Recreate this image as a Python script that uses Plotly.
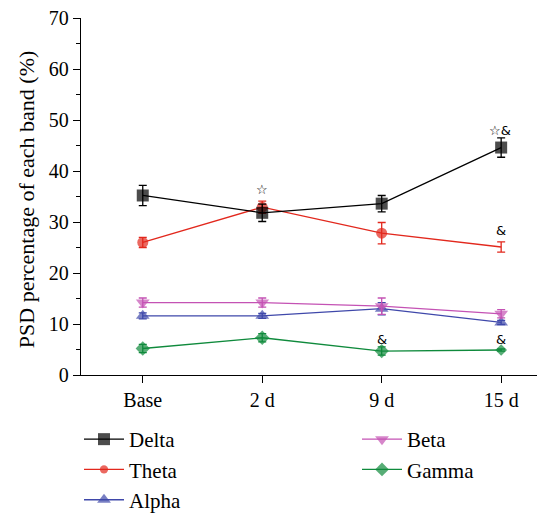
import plotly.graph_objects as go

categories = ["Base", "2 d", "9 d", "15 d"]
xpos = [0, 1, 2, 3]

delta = [35.2, 31.8, 33.6, 44.6]
delta_err = [2.0, 1.7, 1.6, 1.9]
theta = [26.0, 32.9, 27.8, 25.1]
theta_err = [1.0, 1.2, 2.1, 1.0]
alpha = [11.6, 11.6, 13.0, 10.3]
alpha_err = [0.6, 0.5, 1.2, 0.4]
beta = [14.2, 14.2, 13.5, 12.0]
beta_err = [0.9, 0.9, 1.6, 0.8]
gamma = [5.2, 7.3, 4.7, 4.9]
gamma_err = [0.8, 0.8, 0.8, 0.2]

font_family = "Liberation Serif"

series = [
    ("Gamma", gamma, gamma_err, "#0f8a3c", "diamond", [11, 11, 11, 9], "legend2", 2),
    ("Alpha", alpha, alpha_err, "#3f48aa", "triangle-up", [12, 12, 12, 12], "legend", 3),
    ("Beta", beta, beta_err, "#c452b4", "triangle-down", [12, 12, 12, 12], "legend2", 1),
    ("Theta", theta, theta_err, "#e2281d", "circle", [11, 11, 11, 0], "legend", 2),
    ("Delta", delta, delta_err, "#000000", "square", [12, 12, 12, 12], "legend", 1),
]

fig = go.Figure()
for name, vals, errs, color, sym, sizes, leg, rk in series:
    fig.add_trace(go.Scatter(
        x=xpos, y=vals, name=name, mode="lines+markers",
        line=dict(color=color, width=1.3),
        marker=dict(symbol=sym, size=sizes, color=color, line=dict(width=0)),
        error_y=dict(type="data", array=errs, visible=True, color=color,
                     thickness=1.3, width=4),
        legend=leg, legendrank=rk,
    ))

annotations = [
    dict(x=1, y=36.3, text="☆"),
    dict(x=2.99, y=48.0, text="☆&"),
    dict(x=3.0, y=28.3, text="&"),
    dict(x=2.0, y=7.0, text="&"),
    dict(x=3.0, y=7.0, text="&"),
]
for a in annotations:
    fig.add_annotation(x=a["x"], y=a["y"], text=a["text"], showarrow=False,
                       font=dict(family="DejaVu Sans", size=13, color="black"))

# y-axis title as rotated annotation
fig.add_annotation(xref="paper", yref="paper", x=(17 - 72) / 465, y=0.49,
                   text="PSD percentage of each band (%)", textangle=-90,
                   showarrow=False, xanchor="center", yanchor="middle",
                   font=dict(family=font_family, size=22, color="black"))

leg_common = dict(orientation="v", xref="container", yref="container",
                  xanchor="left", yanchor="top", tracegroupgap=0,
                  font=dict(family=font_family, size=21), itemwidth=40,
                  bgcolor="rgba(0,0,0,0)")

fig.update_layout(
    width=545, height=514,
    margin=dict(l=73, r=8, t=10, b=147, autoexpand=False),
    paper_bgcolor="white", plot_bgcolor="white",
    font=dict(family=font_family, size=20, color="black"),
    showlegend=True,
    legend=dict(x=71 / 545, y=1 - 411 / 514, **leg_common),
    legend2=dict(x=349 / 545, y=1 - 411 / 514, **leg_common),
    xaxis=dict(range=[-0.517, 3.367], tickvals=xpos, ticktext=categories,
               showline=True, linecolor="black", linewidth=1.3,
               ticks="outside", ticklen=7, tickcolor="black",
               showgrid=False, zeroline=False,
               tickfont=dict(family=font_family, size=20)),
    yaxis=dict(range=[0, 70], tickvals=[0, 10, 20, 30, 40, 50, 60, 70],
               showline=True, linecolor="black", linewidth=1.3,
               ticks="outside", ticklen=7, tickcolor="black",
               ticklabeloverflow="allow",
               minor=dict(tickvals=[5, 15, 25, 35, 45, 55, 65], ticks="outside",
                          ticklen=4, tickcolor="black"),
               showgrid=False, zeroline=False,
               tickfont=dict(family=font_family, size=20)),
)

fig.write_html("out.html")
